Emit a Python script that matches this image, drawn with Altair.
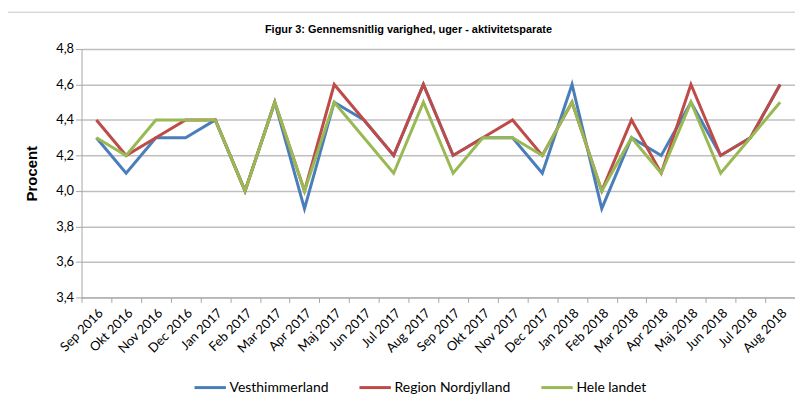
import altair as alt
import pandas as pd

months = ["Sep 2016", "Okt 2016", "Nov 2016", "Dec 2016", "Jan 2017", "Feb 2017",
          "Mar 2017", "Apr 2017", "Maj 2017", "Jun 2017", "Jul 2017", "Aug 2017",
          "Sep 2017", "Okt 2017", "Nov 2017", "Dec 2017", "Jan 2018", "Feb 2018",
          "Mar 2018", "Apr 2018", "Maj 2018", "Jun 2018", "Jul 2018", "Aug 2018"]

vesthimmerland = [4.3, 4.1, 4.3, 4.3, 4.4, 4.0, 4.5, 3.9, 4.5, 4.4, 4.2, 4.6,
                  4.2, 4.3, 4.3, 4.1, 4.6, 3.9, 4.3, 4.2, 4.5, 4.2, 4.3, 4.6]
region_nordjylland = [4.4, 4.2, 4.3, 4.4, 4.4, 4.0, 4.5, 4.0, 4.6, 4.4, 4.2, 4.6,
                      4.2, 4.3, 4.4, 4.2, 4.5, 4.0, 4.4, 4.1, 4.6, 4.2, 4.3, 4.6]
hele_landet = [4.3, 4.2, 4.4, 4.4, 4.4, 4.0, 4.5, 4.0, 4.5, 4.3, 4.1, 4.5,
               4.1, 4.3, 4.3, 4.2, 4.5, 4.0, 4.3, 4.1, 4.5, 4.1, 4.3, 4.5]

series_names = ["Vesthimmerland", "Region Nordjylland", "Hele landet"]
series_colors = ["#4a7ebb", "#be4b48", "#98b954"]
y_ticks = [3.4, 3.6, 3.8, 4.0, 4.2, 4.4, 4.6, 4.8]
chart_title = "Figur 3: Gennemsnitlig  varighed, uger - aktivitetsparate"

rows = []
for name, vals in zip(series_names, [vesthimmerland, region_nordjylland, hele_landet]):
    for i, (m, v) in enumerate(zip(months, vals)):
        rows.append({"Måned": m, "Serie": name, "Værdi": v, "ord": i})
df = pd.DataFrame(rows)

FONT = "Lato"

lines = alt.Chart(df).mark_line(strokeWidth=3).encode(
    x=alt.X("Måned:N", sort=months, title=None,
            scale=alt.Scale(paddingInner=0, paddingOuter=0),
            axis=alt.Axis(labelAngle=-45, tickBand="extent", labelFont=FONT,
                          labelFontSize=13, labelColor="#000000", domainColor="#a6a6a6",
                          tickColor="#a6a6a6", tickSize=5, labelPadding=4, grid=False)),
    y=alt.Y("Værdi:Q", title="Procent",
            scale=alt.Scale(domain=[3.4, 4.8], nice=False, zero=False),
            axis=alt.Axis(values=y_ticks,
                          labelExpr="replace(format(datum.value, '.1f'), '.', ',')",
                          labelFont=FONT, labelFontSize=13, labelColor="#000000",
                          titleFont="Liberation Sans", titleFontSize=15, titleFontWeight="bold",
                          titleColor="#000000", titlePadding=16,
                          domainColor="#a6a6a6", tickColor="#a6a6a6", tickSize=6,
                          gridColor="#bfbfbf", gridWidth=1.5)),
    color=alt.Color("Serie:N", sort=series_names,
                    scale=alt.Scale(domain=series_names, range=series_colors),
                    legend=alt.Legend(title=None, orient="none", direction="horizontal",
                                      legendX=112, legendY=323,
                                      symbolType="stroke", symbolSize=1000,
                                      symbolStrokeWidth=3, labelFont=FONT, labelFontSize=14,
                                      labelColor="#000000", columnPadding=24, labelOffset=2)),
    order=alt.Order("ord:Q"),
)

one = pd.DataFrame({"a": [0]})

border = alt.Chart(one).mark_rect(
    fill=None, stroke="#c8c8c8", strokeWidth=1
).encode(
    x=alt.value(-77), x2=alt.value(719), y=alt.value(-37), y2=alt.value(360)
)

title = alt.Chart(one).mark_text(
    font="Liberation Sans", fontSize=11, fontWeight="bold", color="#000000",
    align="center", baseline="alphabetic"
).encode(x=alt.value(329), y=alt.value(-16), text=alt.value(chart_title))

chart = alt.layer(border, lines, title).properties(
    width=718, height=250,
    autosize=alt.AutoSizeParams(type="none"),
    padding={"left": 74, "top": 40, "right": 0, "bottom": 104},
).configure_view(stroke=None)

chart.save("out.html", embed_options={"renderer": "svg", "actions": False})
